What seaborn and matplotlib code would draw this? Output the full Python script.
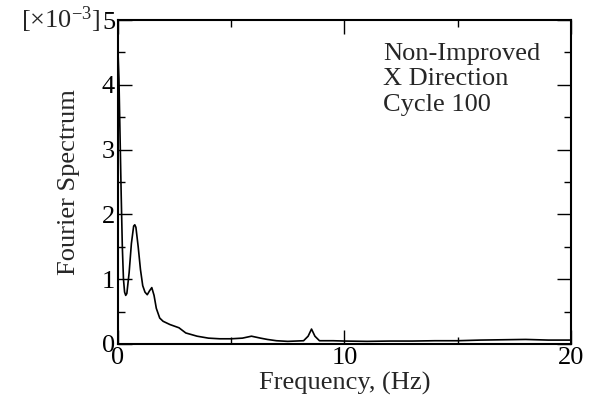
import matplotlib
matplotlib.use("Agg")
import matplotlib.pyplot as plt
import pandas as pd
import seaborn as sns
from matplotlib.ticker import MultipleLocator

# Spectrum values (x1e-3)
freq = [0, 0.05, 0.1, 0.15, 0.2, 0.25, 0.3, 0.35, 0.4, 0.5, 0.6, 0.7, 0.75, 0.8,
        0.9, 1.0, 1.1, 1.2, 1.3, 1.4, 1.5, 1.6, 1.7, 1.85, 2.0, 2.3, 2.7, 3.0,
        3.5, 4.0, 4.5, 5.0, 5.5, 5.9, 6.3, 6.6, 7.0, 7.5, 8.2, 8.4, 8.55, 8.7,
        8.9, 9.5, 10, 11, 12, 13, 14, 15, 16, 17, 18, 19, 20]
spectrum = [4.6, 4.1, 3.2, 2.3, 1.5, 1.0, 0.8, 0.75, 0.78, 1.1, 1.55, 1.82, 1.84, 1.8,
            1.5, 1.15, 0.9, 0.8, 0.76, 0.82, 0.87, 0.75, 0.55, 0.40, 0.35, 0.30, 0.25, 0.17,
            0.12, 0.09, 0.08, 0.08, 0.09, 0.12, 0.09, 0.07, 0.05, 0.04, 0.05, 0.12, 0.23, 0.12,
            0.05, 0.05, 0.045, 0.04, 0.045, 0.045, 0.05, 0.05, 0.06, 0.065, 0.07, 0.06, 0.06]
notes = ["Non-Improved", "X Direction", "Cycle 100"]

df = pd.DataFrame({"freq": freq, "spec": spectrum})

sns.set_style("ticks")
plt.rcParams["font.family"] = "serif"
plt.rcParams["font.serif"] = ["Liberation Serif", "Times New Roman", "DejaVu Serif"]
plt.rcParams["mathtext.default"] = "regular"

fig = plt.figure(figsize=(6.01, 4.09), dpi=100)
ax = fig.add_axes([0.196, 0.159, 0.754, 0.792])

sns.lineplot(data=df, x="freq", y="spec", ax=ax, color="black", linewidth=1.2)

ax.set_xlim(0, 20)
ax.set_ylim(0, 5)
ax.xaxis.set_major_locator(MultipleLocator(10))
ax.xaxis.set_minor_locator(MultipleLocator(5))
ax.yaxis.set_major_locator(MultipleLocator(1))
ax.yaxis.set_minor_locator(MultipleLocator(0.5))
ax.tick_params(which="both", direction="in", top=True, right=True,
               labelsize=19, colors="black", width=1)
ax.tick_params(which="major", length=10, pad=2)
ax.tick_params(which="minor", length=5)
for s in ax.spines.values():
    s.set_linewidth(1.5)
    s.set_color("black")

ax.set_xlabel("Frequency, (Hz)", fontsize=19, labelpad=2)
ax.set_ylabel("Fourier Spectrum", fontsize=19, labelpad=16)
fig.text(0.035, 0.952, "[×10$^{-3}$]", fontsize=19, ha="left", va="center")
ax.text(0.585, 0.93, "\n".join(notes), transform=ax.transAxes, fontsize=19,
        ha="left", va="top", linespacing=1.2)

fig.savefig("out.png", dpi=100)
